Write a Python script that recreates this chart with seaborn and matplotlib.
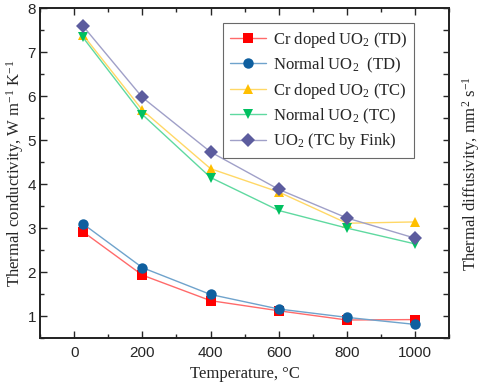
import matplotlib
matplotlib.use('Agg')
import matplotlib.pyplot as plt
import seaborn as sns
from matplotlib.ticker import MultipleLocator

temps = [25, 200, 400, 600, 800, 1000]
cr_td = [2.92, 1.93, 1.35, 1.12, 0.91, 0.92]
normal_td = [3.1, 2.1, 1.49, 1.16, 0.97, 0.81]
cr_tc = [7.4, 5.68, 4.35, 3.82, 3.11, 3.14]
normal_tc = [7.34, 5.58, 4.15, 3.4, 3.0, 2.64]
fink_tc = [7.6, 5.97, 4.73, 3.88, 3.23, 2.77]

series = [
    ('Cr doped UO$_2$ (TD)', cr_td, 's', '#ff0000', '#ff6a6a'),
    ('Normal UO$_2$  (TD)', normal_td, 'o', '#0f5f9f', '#6fa3cc'),
    ('Cr doped UO$_2$ (TC)', cr_tc, '^', '#ffbf00', '#ffd866'),
    ('Normal UO$_2$ (TC)', normal_tc, 'v', '#00c060', '#5fd9a0'),
    ('UO$_2$ (TC by Fink)', fink_tc, 'D', '#5c5c9e', '#a0a0c8'),
]

sns.set_style('ticks')
plt.rcParams['font.family'] = ['Liberation Serif', 'DejaVu Serif']
plt.rcParams['mathtext.fontset'] = 'custom'
plt.rcParams['mathtext.rm'] = 'Liberation Serif'
plt.rcParams['mathtext.it'] = 'Liberation Serif:italic'

fig = plt.figure(figsize=(4.84, 3.89), dpi=100)
ax = fig.add_axes([0.083, 0.131, 0.845, 0.848])

for label, vals, mk, mcol, lcol in series:
    ms = 6.5 if mk == 's' else 7.5
    sns.lineplot(x=temps, y=vals, ax=ax, color=lcol, linewidth=1.0, marker=mk,
                 markersize=ms, markerfacecolor=mcol, markeredgecolor=mcol,
                 markeredgewidth=0, label=label)

ax.set_xlim(-100, 1100)
ax.set_ylim(0.5, 8)
ax.xaxis.set_major_locator(MultipleLocator(200))
ax.xaxis.set_minor_locator(MultipleLocator(100))
ax.yaxis.set_major_locator(MultipleLocator(1))
ax.yaxis.set_minor_locator(MultipleLocator(0.5))
ax.tick_params(which='both', direction='in', top=True, right=False, width=1.0,
               labelsize=11)
ax.tick_params(which='major', length=5)
ax.tick_params(which='minor', length=3)
ax.tick_params(axis='x', which='major', pad=6)
ax.tick_params(axis='y', which='major', pad=3)
for t in ax.get_xticklabels() + ax.get_yticklabels():
    t.set_fontfamily('Liberation Sans')
for s in ax.spines.values():
    s.set_linewidth(1.2)
    s.set_color('black')

ax.set_xlabel('Temperature, °C', fontsize=12, labelpad=4)
ax.set_ylabel('Thermal conductivity, W m$^{-1}$ K$^{-1}$', fontsize=12, labelpad=1)

ax2 = ax.twinx()
ax2.set_ylim(0.5, 8)
ax2.yaxis.set_major_locator(MultipleLocator(0.5))
ax2.tick_params(direction='in', length=4, width=1.0, labelright=False)
ax2.set_ylabel('Thermal diffusivity, mm$^2$ s$^{-1}$', fontsize=12, labelpad=8)
for s in ax2.spines.values():
    s.set_linewidth(1.2)

leg = ax.legend(loc='upper right', bbox_to_anchor=(0.915, 0.955), fontsize=12,
                frameon=True, fancybox=False, edgecolor='#444444',
                handlelength=2.2, handletextpad=0.4, borderpad=0.4,
                labelspacing=0.35, borderaxespad=0)
leg.get_frame().set_linewidth(0.8)

fig.savefig('out.png', dpi=100)
